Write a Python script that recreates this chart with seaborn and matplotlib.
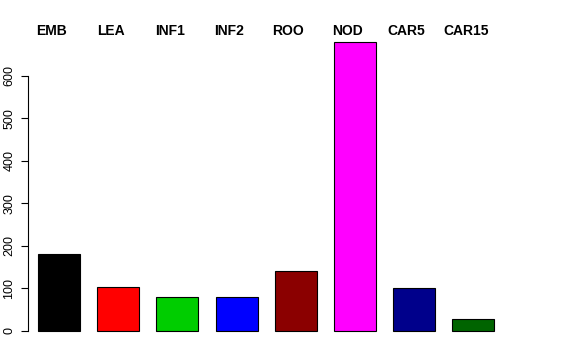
import matplotlib
matplotlib.use("Agg")
import matplotlib.pyplot as plt
import seaborn as sns
import pandas as pd

categories = ["EMB", "LEA", "INF1", "INF2", "ROO", "NOD", "CAR5", "CAR15"]
values = [180, 104, 80, 80, 140, 680, 100, 27]
colors = ["#000000", "#FF0000", "#00CD00", "#0000FF", "#8B0000", "#FF00FF", "#00008B", "#006400"]
yticks = [0, 100, 200, 300, 400, 500, 600]

sns.set_style("white")
plt.rcParams["font.family"] = ["Liberation Sans", "DejaVu Sans"]
plt.rcParams["text.color"] = "black"
plt.rcParams["ytick.color"] = "black"
plt.rcParams["ytick.labelcolor"] = "black"

df = pd.DataFrame({"cat": categories, "val": values})

fig = plt.figure(figsize=(5.76, 3.6), dpi=100)
ax = fig.add_axes([15.8 / 576, (360 - 342.2) / 360, (516.4 - 15.8) / 576, 311.7 / 360])

sns.barplot(data=df, x="cat", y="val", hue="cat", palette=colors, legend=False,
            width=0.71, edgecolor="black", linewidth=0.8, saturation=1, ax=ax)

ax.set_xlim(-0.73, 7.726)
ax.set_ylim(-27.2, 707.2)
ax.set_xlabel("")
ax.set_ylabel("")
ax.set_xticks([])
ax.set_yticks(yticks)
ax.set_yticklabels([str(v) for v in yticks])
for s in ["top", "right", "bottom"]:
    ax.spines[s].set_visible(False)
ax.spines["left"].set_bounds(0, 600)
ax.spines["left"].set_position(("data", -0.524))
ax.spines["left"].set_color("black")
ax.spines["left"].set_linewidth(0.8)
ax.tick_params(axis="y", direction="out", length=5, width=0.8, color="black",
               pad=4, left=True, labelsize=9, labelrotation=90, labelcolor="black")
for lab in ax.get_yticklabels():
    lab.set_va("center")

for i, c in enumerate(categories):
    ax.text(i - 0.127, 1.0 - 0.5 / 311.7, c, transform=ax.get_xaxis_transform(),
            ha="center", va="center", fontsize=10, fontweight="bold", color="black")

fig.savefig("out.png", dpi=100)
